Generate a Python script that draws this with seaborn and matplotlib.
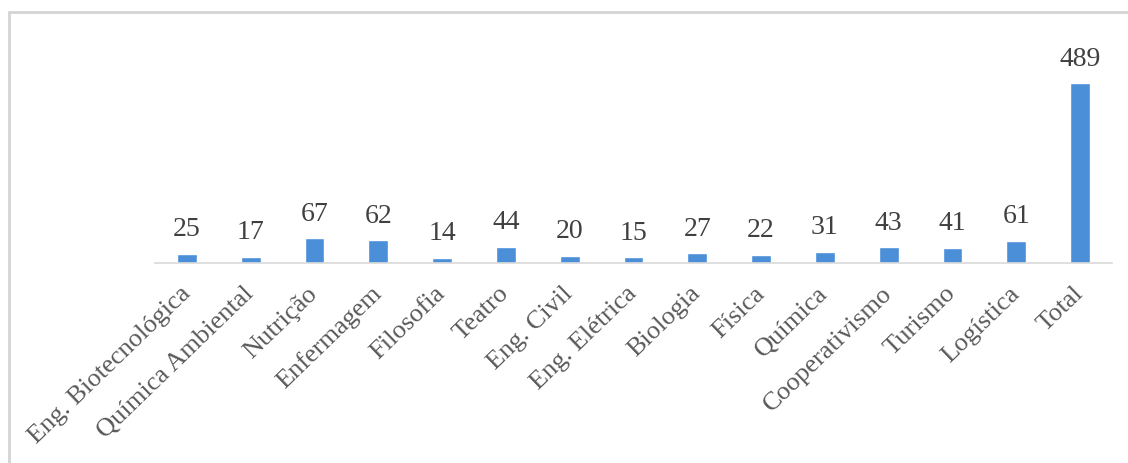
import matplotlib
matplotlib.use("Agg")
import matplotlib.pyplot as plt
from matplotlib.lines import Line2D
import pandas as pd
import seaborn as sns

cursos = ["Eng. Biotecnológica", "Química Ambiental", "Nutrição", "Enfermagem",
          "Filosofia", "Teatro", "Eng. Civil", "Eng. Elétrica", "Biologia",
          "Física", "Química", "Cooperativismo", "Turismo", "Logística", "Total"]
valores = [25, 17, 67, 62, 14, 44, 20, 15, 27, 22, 31, 43, 41, 61, 489]

df = pd.DataFrame({"curso": cursos, "n": valores})

sns.set_style("white")
plt.rcParams["font.family"] = ["Liberation Serif", "DejaVu Serif"]

fig = plt.figure(figsize=(11.28, 4.64), dpi=100)
ax = fig.add_axes([155 / 1128, 200 / 464, 957 / 1128, 234 / 464])

sns.barplot(data=df, x="curso", y="n", color="#4A8FD8", width=0.31,
            saturation=1, ax=ax)

# rotulos de valor acima das barras
for i, v in enumerate(valores):
    ax.annotate(str(v), (i, v), xytext=(0, 9), textcoords="offset points",
                ha="center", va="bottom", fontsize=20, color="#404040")

ax.set_xlim(-0.5, len(cursos) - 0.5)
ax.set_ylim(0, 636)
ax.set_xlabel("")
ax.set_ylabel("")
ax.set_yticks([])
for s in ["top", "right", "left"]:
    ax.spines[s].set_visible(False)
ax.spines["bottom"].set_color("#D9D9D9")
ax.spines["bottom"].set_linewidth(1.2)

ax.tick_params(axis="x", length=0, pad=19)
plt.setp(ax.get_xticklabels(), rotation=44, ha="right", va="center",
         rotation_mode="anchor", fontsize=19, color="#595959")

# moldura do grafico
fig.add_artist(Line2D([9 / 1128, 9 / 1128], [0, 1 - 13 / 464],
                      transform=fig.transFigure, color="#D4D4D4", lw=2))
fig.add_artist(Line2D([9 / 1128, 1], [1 - 13 / 464, 1 - 13 / 464],
                      transform=fig.transFigure, color="#D4D4D4", lw=2))

fig.savefig("out.png", dpi=100)
